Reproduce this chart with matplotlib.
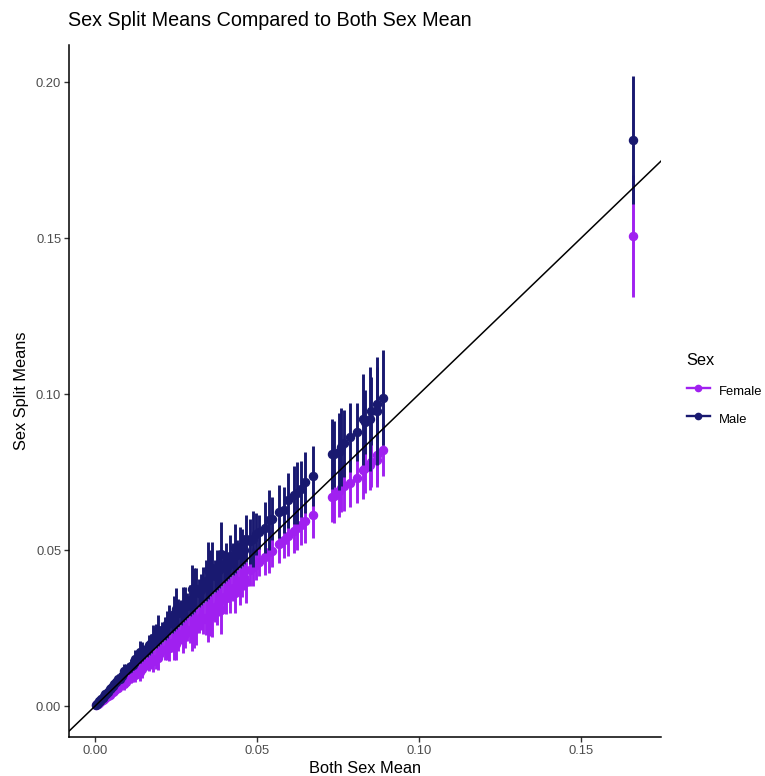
import matplotlib
matplotlib.use("Agg")
import matplotlib.pyplot as plt
from matplotlib.lines import Line2D

plt.rcParams['font.family'] = ['Liberation Sans', 'DejaVu Sans']

# both-sex mean, male mean / half-width, female mean / half-width
both = [0.0003, 0.0006, 0.0009, 0.0012, 0.0015, 0.0019, 0.0023, 0.0027, 0.0031, 0.0035,
        0.0040, 0.0045, 0.0050, 0.0055, 0.0060, 0.0066, 0.0072, 0.0078, 0.0084, 0.0090,
        0.0096, 0.0103, 0.0110, 0.0117, 0.0124, 0.0131, 0.0138, 0.0145, 0.0152, 0.0159,
        0.0166, 0.0173, 0.0180, 0.0187, 0.0194, 0.0201, 0.0208, 0.0215, 0.0222, 0.0229,
        0.0236, 0.0243, 0.0250, 0.0257, 0.0264, 0.0271, 0.0278, 0.0285, 0.0292, 0.0299,
        0.0306, 0.0313, 0.0320, 0.0327, 0.0334, 0.0341, 0.0348, 0.0355, 0.0362, 0.0369,
        0.0376, 0.0383, 0.0390, 0.0397, 0.0404, 0.0411, 0.0418, 0.0425, 0.0432, 0.0439,
        0.0446, 0.0453, 0.0460, 0.0467,
        0.0478, 0.0489, 0.0497, 0.0506, 0.0525, 0.0538, 0.0546, 0.0569, 0.0582, 0.0597,
        0.0613, 0.0623, 0.0636, 0.0649, 0.0673,
        0.0732, 0.0739, 0.0752, 0.0760, 0.0768, 0.0786, 0.0807, 0.0827, 0.0834, 0.0850,
        0.0853, 0.0869, 0.0871, 0.0889,
        0.1662]

male = [0.000348, 0.000678, 0.00108, 0.0015, 0.00174, 0.002242, 0.002599, 0.003294, 0.00372, 0.00399,
        0.00464, 0.005625, 0.00565, 0.00649, 0.0072, 0.007656, 0.008784, 0.008814, 0.009576, 0.01125,
        0.01152, 0.011948, 0.01298, 0.013221, 0.015128, 0.015196, 0.01725, 0.0174, 0.017328, 0.017967,
        0.019588, 0.020068, 0.02196, 0.02244, 0.02425, 0.022713, 0.023712, 0.02494, 0.026196, 0.02748,
        0.026668, 0.029646, 0.03125, 0.029812, 0.030096, 0.03252, 0.032804, 0.032205, 0.033872, 0.037375,
        0.037332, 0.03756, 0.03616, 0.037278, 0.038744, 0.040238, 0.0435, 0.0426, 0.044164, 0.041697,
        0.043616, 0.043662, 0.04875, 0.044464, 0.046056, 0.044799, 0.04807, 0.047175, 0.050544, 0.04829,
        0.050844, 0.050736, 0.05014, 0.053705,
        0.0528, 0.0536, 0.0551, 0.0557, 0.0572, 0.0596, 0.0601, 0.0623, 0.0628, 0.0660,
        0.0676, 0.0684, 0.0695, 0.0717, 0.0737,
        0.0808, 0.0808, 0.0815, 0.0829, 0.0842, 0.0861, 0.0879, 0.0919, 0.0910, 0.0921,
        0.0947, 0.0947, 0.0968, 0.0989,
        0.1814]

male_err = [0.000051, 0.000084, 0.000189, 0.000312, 0.000255, 0.000361, 0.000322, 0.000621, 0.000651, 0.000525,
            0.00068, 0.00117, 0.0007, 0.001045, 0.00126, 0.001122, 0.001656, 0.001092, 0.00126, 0.00234,
            0.002016, 0.001751, 0.00209, 0.001638, 0.002852, 0.002227, 0.003588, 0.003045, 0.00228, 0.002226,
            0.003154, 0.002941, 0.00414, 0.003927, 0.005044, 0.002814, 0.00312, 0.003655, 0.004218, 0.004809,
            0.003304, 0.005589, 0.0065, 0.004369, 0.00396, 0.005691, 0.005282, 0.00399, 0.004964, 0.007774,
            0.007038, 0.006573, 0.00448, 0.004905, 0.005678, 0.006479, 0.009048, 0.007455, 0.008326, 0.005166,
            0.006392, 0.005745, 0.01014, 0.005161, 0.00606, 0.00411, 0.006688, 0.0051, 0.007776, 0.004829,
            0.00669, 0.005889, 0.0046, 0.007472,
            0.0072, 0.0090, 0.0068, 0.0055, 0.0081, 0.0096, 0.0070, 0.0085, 0.0074, 0.0088,
            0.0093, 0.0099, 0.0090, 0.0097, 0.0096,
            0.0111, 0.0105, 0.0123, 0.0125, 0.0107, 0.0111, 0.0093, 0.0147, 0.0103, 0.0167,
            0.0109, 0.0173, 0.0120, 0.0152,
            0.0205]

female = [0.000252, 0.000516, 0.000729, 0.000948, 0.00126, 0.001577, 0.001978, 0.00216, 0.002511, 0.003045,
          0.00336, 0.003555, 0.0043, 0.004565, 0.00486, 0.005544, 0.00576, 0.006708, 0.007308, 0.00711,
          0.007776, 0.008652, 0.00913, 0.010062, 0.00992, 0.011004, 0.010902, 0.011745, 0.013224, 0.013674,
          0.013778, 0.014532, 0.0144, 0.015147, 0.015326, 0.017286, 0.018096, 0.01806, 0.018426, 0.018549,
          0.020296, 0.01944, 0.01975, 0.021588, 0.022968, 0.021951, 0.023074, 0.02451, 0.024528, 0.023621,
          0.02448, 0.025353, 0.02752, 0.028449, 0.028056, 0.028303, 0.027492, 0.028755, 0.02896, 0.031734,
          0.031584, 0.033321, 0.03081, 0.034936, 0.034744, 0.03699, 0.03553, 0.037825, 0.036288, 0.039949,
          0.038356, 0.039864, 0.0414, 0.039695,
          0.0436, 0.0447, 0.0453, 0.0462, 0.0479, 0.0494, 0.0497, 0.0520, 0.0531, 0.0546,
          0.0560, 0.0571, 0.0582, 0.0594, 0.0612,
          0.0671, 0.0674, 0.0689, 0.0699, 0.0705, 0.0716, 0.0732, 0.0756, 0.0762, 0.0772,
          0.0783, 0.0788, 0.0804, 0.0821,
          0.1507]

female_err = [0.000045, 0.000078, 0.000162, 0.00024, 0.000225, 0.000304, 0.000299, 0.000513, 0.000558, 0.00042,
              0.0006, 0.0009, 0.00065, 0.00088, 0.00108, 0.00099, 0.001368, 0.001014, 0.001008, 0.0018,
              0.001728, 0.001545, 0.00176, 0.001521, 0.002356, 0.001965, 0.00276, 0.00261, 0.001824, 0.002067,
              0.002656, 0.002595, 0.00342, 0.003366, 0.00388, 0.002613, 0.002496, 0.003225, 0.003552, 0.004122,
              0.003068, 0.004617, 0.005, 0.003855, 0.003168, 0.004878, 0.004448, 0.003705, 0.00438, 0.00598,
              0.005814, 0.005634, 0.00416, 0.003924, 0.00501, 0.005456, 0.00696, 0.00639, 0.006878, 0.004797,
              0.00564, 0.004596, 0.0078, 0.004367, 0.005252, 0.003699, 0.005852, 0.00425, 0.00648, 0.003512,
              0.005798, 0.004983, 0.00414, 0.006538,
              0.0052, 0.0061, 0.0049, 0.0046, 0.0058, 0.0066, 0.0050, 0.0062, 0.0055, 0.0064,
              0.0068, 0.0070, 0.0066, 0.0071, 0.0074,
              0.0080, 0.0087, 0.0082, 0.0076, 0.0080, 0.0077, 0.0082, 0.0091, 0.0080, 0.0080,
              0.0080, 0.0085, 0.0088, 0.0085,
              0.0196]

xticks = [0.00, 0.05, 0.10, 0.15]
yticks = [0.00, 0.05, 0.10, 0.15, 0.20]
sexes = ["Female", "Male"]
colors = ["#A020F0", "#191970"]

fig = plt.figure(figsize=(7.65, 7.76), dpi=100)
ax = fig.add_axes([0.0908, 0.0503, 0.7733, 0.8917])

ax.errorbar(both, female, yerr=female_err, fmt='o', color=colors[0], ms=5.8,
            elinewidth=2.1, capsize=0, zorder=2)
ax.errorbar(both, male, yerr=male_err, fmt='o', color=colors[1], ms=5.8,
            elinewidth=2.1, capsize=0, zorder=3)
ax.axline((0, 0), slope=1, color='black', lw=1.1, zorder=4)

ax.set_xlim(-0.0079, 0.1747)
ax.set_ylim(-0.0099, 0.2119)
ax.set_xticks(xticks)
ax.set_yticks(yticks)
ax.set_xticklabels(["%.2f" % v for v in xticks])
ax.set_yticklabels(["%.2f" % v for v in yticks])
ax.tick_params(labelsize=9.4, labelcolor='#4D4D4D', color='#333333', length=3.5, width=1.0, pad=2.5)
for s in ['top', 'right']:
    ax.spines[s].set_visible(False)
for s in ['left', 'bottom']:
    ax.spines[s].set_linewidth(1.1)

ax.set_xlabel("Both Sex Mean", fontsize=11.8, labelpad=3)
ax.set_ylabel("Sex Split Means", fontsize=11.8, labelpad=5)
fig.text(0.089, 0.974, "Sex Split Means Compared to Both Sex Mean", fontsize=14.2,
         ha='left', va='center')

# legend: title as text, entries through fig.legend
fig.text(0.8967, 0.5348, "Sex", fontsize=11.8, ha='left', va='center')
handles = [Line2D([0], [0], color=c, lw=1.7, marker='o', ms=4.5) for c in colors]
fig.legend(handles, sexes, loc='upper left', bbox_to_anchor=(0.8824, 0.523),
           frameon=False, fontsize=9.4, handlelength=1.74, handleheight=1.6,
           labelspacing=0.87, handletextpad=0.75)

fig.savefig("out.png", dpi=100)
